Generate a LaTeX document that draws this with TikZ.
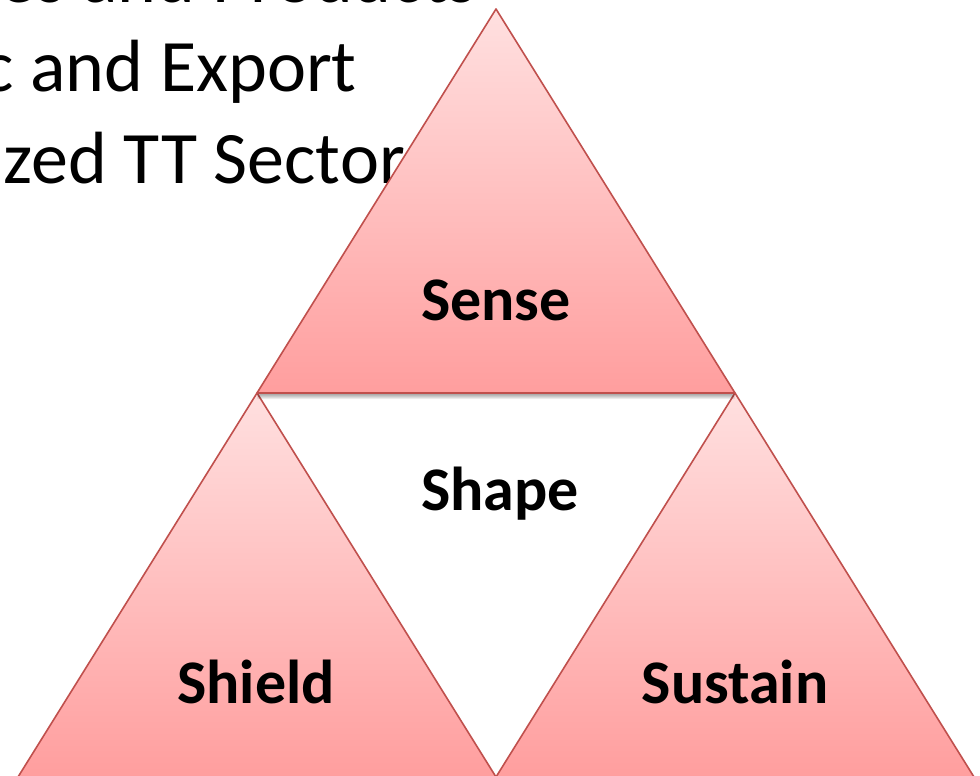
\documentclass[tikz,border=0pt]{standalone}
\usepackage{fontspec}
\setmainfont{Carlito}
\definecolor{trired}{HTML}{C0504D}
\definecolor{topc}{RGB}{255,224,224}
\definecolor{botc}{RGB}{255,158,158}
\begin{document}
\begin{tikzpicture}[x=1pt,y=-1pt,
  tri/.style={draw=trired, line width=1.6pt, line join=round, top color=topc, bottom color=botc},
  lbl/.style={font=\fontsize{62}{62}\selectfont\bfseries, inner sep=0pt, anchor=base},
  body/.style={font=\fontsize{74}{90}\selectfont, inner sep=0pt, anchor=base west},
  shade/.style={fill=black, opacity=0.07, draw=none}]
\useasboundingbox (0,0) rectangle (980,776);
\clip (0,0) rectangle (980,776);
\fill[white] (0,0) rectangle (980,776);
% partially hidden bullet text
\node[body, anchor=base east] (l1) at (477,3) {es and Products};
\node[body] (l2) at (-18,92) {c and Export};
\node[body] (l3) at (-52,183) {nized TT Sector};
% bottom triangles
\coordinate (tA) at (496,9);
\coordinate (tL) at (257,393);
\coordinate (tR) at (735,393);
\coordinate (bL) at (18,777);
\coordinate (bM) at (496,777);
\coordinate (bR) at (974,777);
\path[tri] (tL) -- (bM) -- (bL) -- cycle;
\path[tri] (tR) -- (bR) -- (bM) -- cycle;
% soft shadow of top triangle
\foreach \d in {1,2,3,4,5,6}{
  \fill[shade] ([yshift=-\d pt]tA) -- ([yshift=-\d pt]tR) -- ([yshift=-\d pt]tL) -- cycle;
}
\path[tri] (tA) -- (tR) -- (tL) -- cycle;
% labels
\node[lbl] (sense) at (496,320) {Sense};
\node[lbl] (shape) at (500,510) {Shape};
\node[lbl] (shield) at (256,703) {Shield};
\node[lbl] (sustain) at (735,703) {Sustain};
\end{tikzpicture}
\end{document}
